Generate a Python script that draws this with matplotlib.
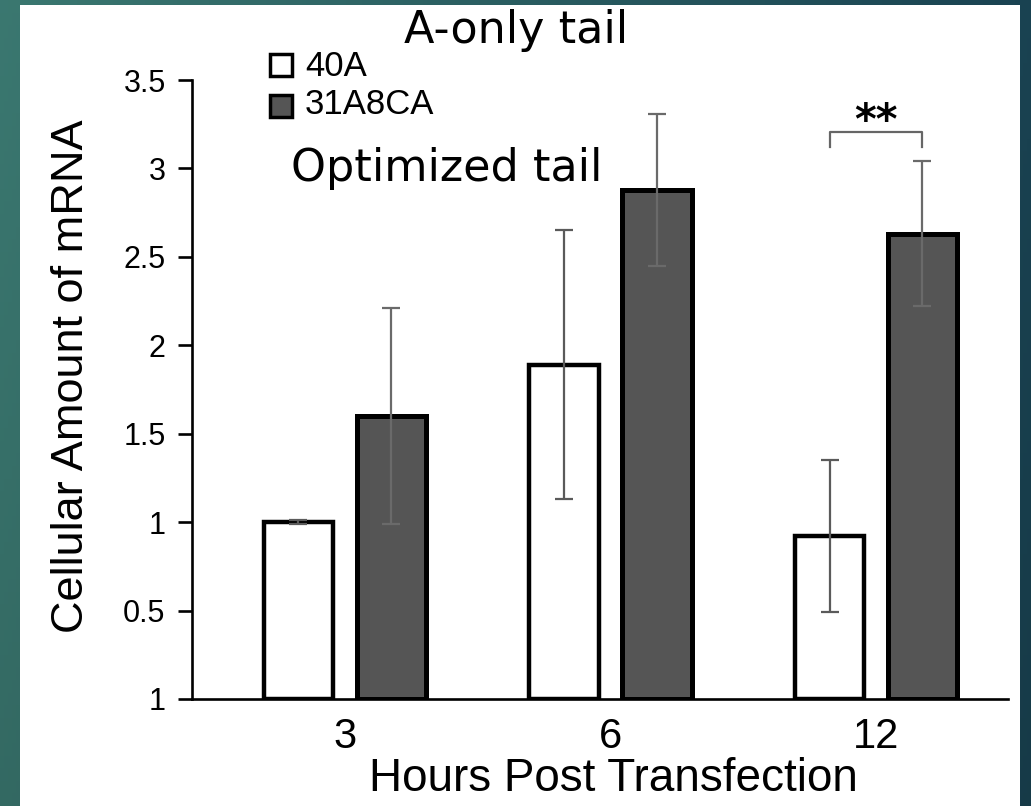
import matplotlib.pyplot as plt
import numpy as np
from matplotlib.patches import Rectangle

# values
hours = ["3", "6", "12"]
a40_mean = [1.00, 1.89, 0.92]
a40_err = [0.01, 0.76, 0.43]
ca_mean = [1.60, 2.88, 2.63]
ca_err = [0.61, 0.43, 0.41]
ytick_vals = [0, 0.5, 1, 1.5, 2, 2.5, 3, 3.5]
ytick_labels = ["1", "0.5", "1", "1.5", "2", "2.5", "3", "3.5"]

W, H = 1031, 806
plt.rcParams["font.family"] = ["Liberation Sans", "DejaVu Sans"]

fig = plt.figure(figsize=(W / 100, H / 100), dpi=100)


def fx(px):
    return px / W


def fy(py):
    return 1 - py / H


# teal slide background
bg = fig.add_axes([0, 0, 1, 1])
left_col = np.array([0.23, 0.47, 0.44])
right_col = np.array([0.10, 0.26, 0.32])
t = np.linspace(0, 1, 256)
row = left_col[None, :] * (1 - t[:, None]) + right_col[None, :] * t[:, None]
shade = np.linspace(1.0, 0.88, 64)
img = row[None, :, :] * shade[:, None, None]
bg.imshow(img, aspect="auto", extent=[0, 1, 0, 1])
bg.add_patch(Rectangle((fx(20), 0), fx(1000), fy(5), facecolor="white", edgecolor="none"))
bg.set_xlim(0, 1)
bg.set_ylim(0, 1)
bg.axis("off")

ax = fig.add_axes([fx(192), fy(699), fx(1008 - 192), (699 - 80) / H])
ax.patch.set_alpha(0)

x = np.arange(len(hours))
off = 0.175
w = 0.263
ax.bar(x - off, a40_mean, w, color="white", edgecolor="black", linewidth=3.2, zorder=2)
ax.bar(x + off, ca_mean, w, color="#555555", edgecolor="black", linewidth=3.6, zorder=2)
ax.errorbar(x - off, a40_mean, yerr=a40_err, fmt="none", ecolor="#5a5a5a",
            elinewidth=1.6, capsize=6.5, capthick=1.6, zorder=3)
ax.errorbar(x + off, ca_mean, yerr=ca_err, fmt="none", ecolor="#6a6a6a",
            elinewidth=1.6, capsize=6.5, capthick=1.6, zorder=3)

# significance bracket over 12 h
x0, x1 = x[2] - off, x[2] + off
ax.plot([x0, x0, x1, x1], [3.12, 3.205, 3.205, 3.12], color="#666666", lw=1.6, clip_on=False)
ax.text((x0 + x1) / 2, 3.265, "**", ha="center", va="center", fontsize=30,
        fontweight="bold", family="DejaVu Sans")

ax.set_xlim(-0.576, 2.497)
ax.set_ylim(0, 3.5)
ax.set_xticks(x)
ax.set_xticklabels(hours)
ax.set_yticks(ytick_vals)
ax.set_yticklabels(ytick_labels)
ax.tick_params(axis="y", length=10, width=1.9, labelsize=22, pad=9)
ax.tick_params(axis="x", length=0, labelsize=30, pad=13)
for s in ["top", "right"]:
    ax.spines[s].set_visible(False)
for s in ["left", "bottom"]:
    ax.spines[s].set_linewidth(1.9)

fig.text(fx(72), fy(376), "Cellular Amount of mRNA", rotation=90, ha="center", va="center", fontsize=32.5)
fig.text(fx(613), fy(779), "Hours Post Transfection", ha="center", va="center", fontsize=33)

# legend
fig.add_artist(Rectangle((fx(270), fy(76)), fx(22), 22 / H, facecolor="white",
                         edgecolor="black", lw=2.5, transform=fig.transFigure))
fig.add_artist(Rectangle((fx(270), fy(117)), fx(22), 22 / H, facecolor="#555555",
                         edgecolor="black", lw=2.5, transform=fig.transFigure))
fig.text(fx(305), fy(66), "40A", ha="left", va="center", fontsize=25)
fig.text(fx(305), fy(105), "31A8CA", ha="left", va="center", fontsize=25)

# slide annotations
fig.text(fx(516), fy(30), "A-only tail", ha="center", va="center", fontsize=32, family="DejaVu Sans")
fig.text(fx(447), fy(168), "Optimized tail", ha="center", va="center", fontsize=32, family="DejaVu Sans")

fig.savefig("out.png", dpi=100)
